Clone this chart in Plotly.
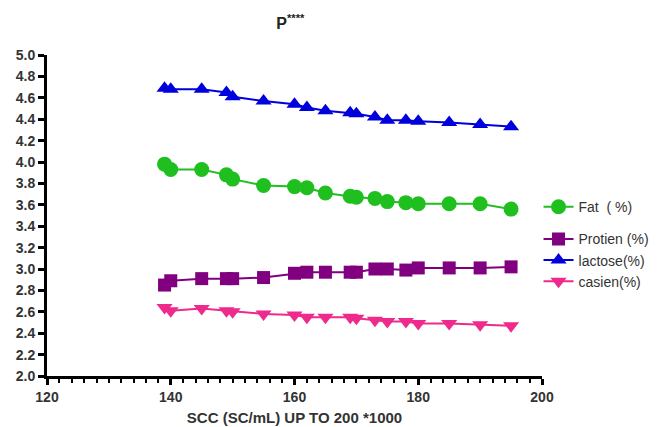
import plotly.graph_objects as go

scc = [139, 140, 145, 149, 150, 155, 160, 162, 165, 169, 170, 173, 175, 178, 180, 185, 190, 195]
fat = [3.98, 3.93, 3.93, 3.88, 3.84, 3.78, 3.77, 3.76, 3.71, 3.68, 3.67, 3.66, 3.63, 3.62, 3.61, 3.61, 3.61, 3.56]
protein = [2.85, 2.89, 2.91, 2.91, 2.91, 2.92, 2.96, 2.97, 2.97, 2.97, 2.97, 3.00, 3.00, 2.99, 3.01, 3.01, 3.01, 3.02]
lactose = [4.69, 4.68, 4.68, 4.65, 4.61, 4.57, 4.54, 4.51, 4.48, 4.46, 4.45, 4.42, 4.39, 4.39, 4.38, 4.37, 4.35, 4.33]
casein = [2.64, 2.61, 2.63, 2.61, 2.60, 2.58, 2.57, 2.55, 2.55, 2.55, 2.54, 2.52, 2.51, 2.51, 2.49, 2.49, 2.48, 2.47]

series = [
    ("Fat  ( %)", fat, "#1fbf1f", "circle", 15, "g1"),
    ("Protien (%)", protein, "#800080", "square", 13, "g2"),
    ("lactose(%)", lactose, "#0000dd", "triangle-up", 14, "g2"),
    ("casien(%)", casein, "#ee2a8c", "triangle-down", 14, "g2"),
]

fig = go.Figure()
for name, vals, color, sym, size, grp in series:
    fig.add_trace(go.Scatter(
        x=scc, y=vals, name=name, mode="lines+markers",
        line=dict(color=color, width=2),
        marker=dict(color=color, symbol=sym, size=size, line=dict(width=0)),
        legendgroup=grp,
    ))

tickfont = dict(size=14, color="#333333", family="Arial, Liberation Sans, sans-serif", weight="bold")

fig.update_layout(
    width=669, height=427,
    margin=dict(l=47, r=127, t=55, b=51),
    paper_bgcolor="white", plot_bgcolor="white",
    font=dict(family="Arial, Liberation Sans, sans-serif", color="#333333"),
    title=dict(text="P<sup>****</sup>", x=0.434, xanchor="center", y=0.946, yanchor="middle",
               automargin=False, font=dict(size=16, color="#222222", weight="bold")),
    showlegend=True,
    legend=dict(x=0.993, xanchor="left", y=0.576, yanchor="top", tracegroupgap=11,
                itemwidth=30, font=dict(size=14, color="#333333"), bgcolor="rgba(0,0,0,0)"),
    xaxis=dict(range=[120, 200], tickvals=[120, 140, 160, 180, 200], showgrid=False, zeroline=False,
               automargin=False,
               showline=True, linecolor="black", linewidth=3, ticks="outside", ticklen=6, tickwidth=2.5,
               tickcolor="black", tickfont=tickfont,
               minor=dict(dtick=2, ticks="outside", ticklen=4, tickwidth=2, tickcolor="black"),
               title=dict(text="SCC (SC/mL) UP TO 200 *1000", font=dict(size=15, color="#333333", weight="bold"), standoff=9)),
    yaxis=dict(range=[2.0, 5.0], dtick=0.2, tickformat=".1f", showgrid=False, zeroline=False,
               automargin=False,
               showline=True, linecolor="black", linewidth=3, ticks="outside", ticklen=6, tickwidth=2.5,
               tickcolor="black", tickfont=tickfont),
)

fig.write_html("out.html", config={"displayModeBar": False},
               post_script="document.body.style.margin='0';document.body.style.overflow='hidden';")
